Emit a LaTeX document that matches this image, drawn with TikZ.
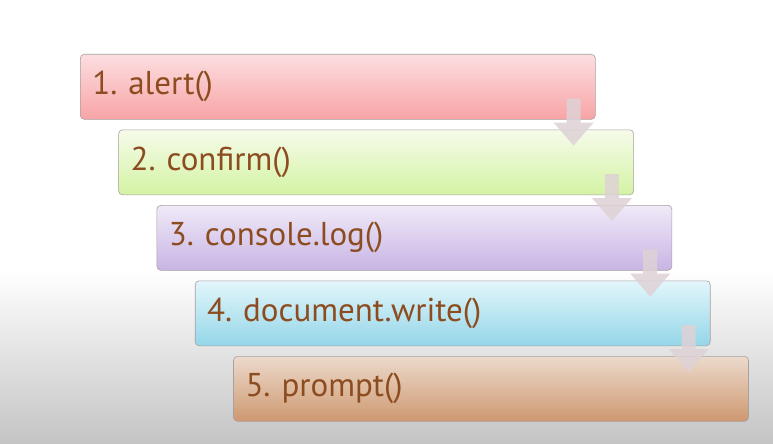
\documentclass[tikz,border=0pt]{standalone}
\usepackage{fontspec}
\setmainfont{PT Sans}
\usepackage{tikz}
\usetikzlibrary{positioning,calc}

\definecolor{txtbrown}{RGB}{140,76,32}
\definecolor{arrowgray}{RGB}{222,210,214}
\definecolor{boxedge}{RGB}{170,160,160}

\tikzset{
	listbox/.style={draw=boxedge, line width=0.6pt, rounded corners=4pt, anchor=north west,
		minimum height=65pt, text width=491pt, inner xsep=12pt, inner ysep=0pt, align=left,
		text=txtbrown, font=\fontsize{33}{33}\selectfont},
	flowarrow/.style={fill=arrowgray, opacity=0.85}
}

\begin{document}
\frenchspacing
\begin{tikzpicture}[x=1pt,y=-1pt]
	\useasboundingbox (0,0) rectangle (773,444);
	% background
	\fill[white] (0,0) rectangle (773,270);
	\shade[top color=white, bottom color={rgb,255:red,196;green,196;blue,196}] (0,270) rectangle (773,444);
	% the five boxes
	\foreach \i/\ctop/\cbot/\txt in {
		1/{252,222,224}/{248,164,166}/alert(),
		2/{246,251,234}/{212,243,164}/confirm(),
		3/{240,234,248}/{200,180,228}/console.log(),
		4/{226,246,251}/{148,214,232}/document.write(),
		5/{236,218,204}/{206,152,112}/prompt()}
	{
		\definecolor{ctop}{RGB}{\ctop}
		\definecolor{cbot}{RGB}{\cbot}
		\node[listbox, top color=ctop, bottom color=cbot] (b\i) at ({80+38.3*(\i-1)},{54+75.5*(\i-1)}) {\raisebox{-3pt}{\i. \txt}};
	}
	% arrows between the boxes
	\foreach \i in {1,...,4}{
		\coordinate (t\i) at ($(b\i.south east)+(-22,3)$);
		\fill[flowarrow] (t\i) +(-7,-24) -- +(7,-24) -- +(7,0) -- +(20,0) -- +(0,23) -- +(-20,0) -- +(-7,0) -- cycle;
	}
\end{tikzpicture}
\end{document}
